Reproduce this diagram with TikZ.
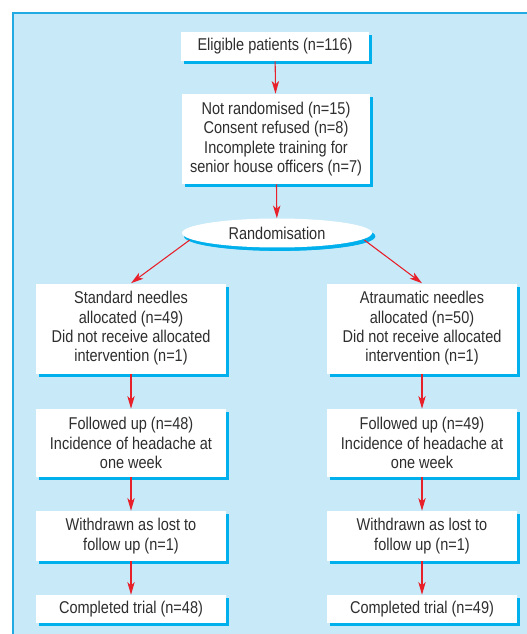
\documentclass[tikz,border=0pt]{standalone}
\usepackage{fontspec}
\setmainfont{Liberation Sans}[FakeStretch=0.85]
\usepackage{tikz}
\usetikzlibrary{shadows,arrows.meta,calc,shapes.geometric}

\definecolor{panelblue}{HTML}{C7E9F8}
\definecolor{rimblue}{HTML}{22AAE2}
\definecolor{shadeblue}{HTML}{00B0EC}
\definecolor{arrowred}{HTML}{E8202A}
\definecolor{textgrey}{HTML}{2E2E2E}

\begin{document}
\begin{tikzpicture}[x=0.75pt,y=0.75pt,yscale=-1,
  box/.style={rectangle, fill=white, text=textgrey, align=center, inner sep=1pt,
    font=\fontsize{12.8}{14.5}\selectfont,
    drop shadow={shadow xshift=2.5pt, shadow yshift=-2.5pt, fill=shadeblue, opacity=1}},
  arr/.style={draw=arrowred, line width=0.8pt, -{Stealth[length=9.5pt,width=5.5pt,inset=2.5pt]}}]
\useasboundingbox (0,0) rectangle (527,634);

%Panel
\fill[panelblue] (13,13) rectangle (527,634);
\draw[rimblue, line width=0.9pt] (13,634) -- (13,13) -- (527,13);

% Top column
\node[box, minimum width=141pt, minimum height=21.75pt] (elig) at (275,46.5) {Eligible patients (n=116)};
\node[box, minimum width=141pt, minimum height=67.5pt] (notrand) at (276,139) {Not randomised (n=15)\\Consent refused (n=8)\\Incomplete training for\\senior house officers (n=7)};
\node[box, ellipse, minimum width=142.5pt, minimum height=21.75pt,
  drop shadow={shadow xshift=1.5pt, shadow yshift=-2.5pt, fill=shadeblue, opacity=1}] (rand) at (277,233) {Randomisation};

% Left column
\node[box, minimum width=142.5pt, minimum height=67.5pt] (stdneed) at (131,328.5) {Standard needles\\allocated (n=49)\\Did not receive allocated\\intervention (n=1)};
\node[box, minimum width=142.5pt, minimum height=51pt] (fupL) at (131,443) {Followed up (n=48)\\Incidence of headache at\\one week};
\node[box, minimum width=142.5pt, minimum height=37.5pt] (lostL) at (131,536) {Withdrawn as lost to\\follow up (n=1)};
\node[box, minimum width=142.5pt, minimum height=21pt] (doneL) at (131,609) {Completed trial (n=48)};

% Right column
\node[box, minimum width=142.5pt, minimum height=67.5pt] (atrneed) at (422,328.5) {Atraumatic needles\\allocated (n=50)\\Did not receive allocated\\intervention (n=1)};
\node[box, minimum width=142.5pt, minimum height=51pt] (fupR) at (422,443) {Followed up (n=49)\\Incidence of headache at\\one week};
\node[box, minimum width=142.5pt, minimum height=37.5pt] (lostR) at (422,536) {Withdrawn as lost to\\follow up (n=1)};
\node[box, minimum width=142.5pt, minimum height=21pt] (doneR) at (422,609) {Completed trial (n=49)};

% Arrows
\coordinate (randL) at ($(rand.west)+(8,7)$);
\coordinate (randR) at ($(rand.east)+(-8,7)$);
\draw[arr] (elig) -- (notrand);
\draw[arr] (notrand) -- (rand);
\draw[arr] (randL) -- (stdneed.north);
\draw[arr] (randR) -- (atrneed.north);
\draw[arr] (stdneed) -- (fupL);
\draw[arr] (fupL) -- (lostL);
\draw[arr] (lostL) -- (doneL);
\draw[arr] (atrneed) -- (fupR);
\draw[arr] (fupR) -- (lostR);
\draw[arr] (lostR) -- (doneR);

\end{tikzpicture}
\end{document}
